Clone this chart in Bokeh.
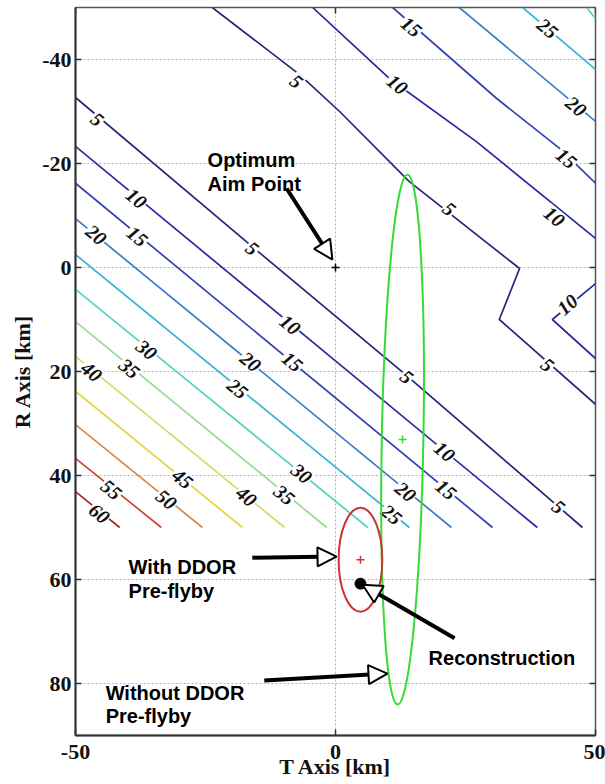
import numpy as np
from bokeh.plotting import figure
from bokeh.models import Range1d, FixedTicker, Arrow, NormalHead, ColumnDataSource
from bokeh.core.properties import value
from bokeh.embed import file_html
from bokeh.resources import INLINE

# ---------------- data (km) ----------------
x_ticks = [-50, 0, 50]
y_ticks = [-40, -20, 0, 20, 40, 60, 80]
x_lim = (-50, 50)
y_lim = (90, -50)   # reversed axis: R grows downward

# contour grid extent
grid_x_min = -50
grid_x_max = 50
grid_y_min = -50
grid_y_max = 50

levels = [5, 10, 15, 20, 25, 30, 35, 40, 45, 50, 55, 60]
level_colors = ["#26267a", "#2a2a9e", "#3040b4", "#3a7cc6", "#38b4d6", "#52d2be",
                "#98da92", "#cede66", "#e6d248", "#d68a46", "#cc4436", "#aa2626"]

# lower-left family: nearly straight lines from the left edge to the grid cut (y=50)
lower_levels = [10, 15, 20, 25, 30, 35, 40, 45, 50, 55, 60]
lower_y_at_left = [-23.3, -16.2, -9.4, -2.5, 4.2, 10.4, 17.1, 23.8, 30.2, 36.7, 43.1]
lower_x_at_cut = [38.8, 30.2, 22.3, 14.2, 6.2, -1.7, -9.8, -17.9, -25.6, -33.5, -41.5]

low5_x = [-50, -16.0, 13.7, 47.5]
low5_y = [-32.7, -4.0, 20.8, 50]

# upper-right family
up5_x = [-23.7, -6.9, 0.8, 14.2, 35.4, 31.5, 50]
up5_y = [-50, -37.1, -30.0, -16.5, 0.2, 10.0, 26.3]
up10_x = [-4.4, 10.4, 27.1, 50]
up10_y = [-50, -36.3, -24.2, -5.6]
up10b_x = [50, 41.7, 50]
up10b_y = [3.1, 10.0, 17.5]
up15_x = [11.0, 31.0, 43.1, 50]
up15_y = [-50, -32.5, -22.9, -16.2]
up20_x = [23.8, 50]
up20_y = [-50, -28.1]
up25_x = [36.0, 50]
up25_y = [-50, -38.1]
up30_x = [48.3, 50]
up30_y = [-50, -47.9]

# contour labels
clabel_text = ["5", "5", "5", "5", "10", "10", "10", "15", "15", "15", "20", "20", "20",
               "25", "25", "30", "30", "35", "35", "40", "40", "45", "50", "55", "60",
               "5", "5", "5", "10", "10", "10", "15", "15", "20", "25"]
clabel_x = [-45.8, -16.0, 13.7, 42.9, -38.3, -8.7, 21.0, -38.1, -8.3, 21.3, -46.0, -16.3, 13.5,
            -18.8, 10.8, -36.3, -6.5, -39.6, -9.8, -46.9, -17.1, -29.4, -32.5, -43.1, -45.4,
            -7.5, 21.9, 40.8, 11.9, 42.1, 44.6, 14.6, 44.4, 46.3, 40.8]
clabel_y = [-28.5, -3.7, 21.0, 46.0, -13.3, 11.0, 35.4, -6.0, 18.1, 42.7, -6.3, 18.1, 43.1,
            23.3, 47.5, 15.8, 39.6, 19.4, 43.7, 20.0, 44.0, 40.6, 44.6, 42.7, 47.3,
            -35.8, -11.3, 18.7, -35.2, -9.8, 7.1, -46.3, -21.0, -31.0, -46.0]
clabel_up = [False] * 30 + [True] + [False] * 4

# uncertainty ellipses (center, full width, full height)
green_c = (12.9, 33.1)
green_w, green_h, green_angle = 8.0, 102.0, -0.0186
red_c = (4.8, 56.2)
red_w, red_h = 8.4, 20.0

aim_point = (0.0, 0.0)
recon_point = (4.8, 60.8)

# annotations: (text lines, x, baseline y of first line, line step)
ann_opt = (["Optimum", "Aim Point"], -24.6, -20.6, 4.6)
ann_with = (["With DDOR", "Pre-flyby"], -39.8, 57.5, 4.8)
ann_without = (["Without DDOR", "Pre-flyby"], -44.2, 81.9, 4.4)
ann_recon = (["Reconstruction"], 17.9, 75.0, 0)

arrows = [((-9.4, -15.2), (-0.6, -1.5)),
          ((-16.0, 55.8), (0.2, 55.6)),
          ((-13.7, 79.4), (10.0, 78.1)),
          ((22.9, 71.3), (5.2, 61.0))]

# ---------------- figure ----------------
p = figure(width=605, height=784, output_backend="svg", toolbar_location=None,
           x_range=Range1d(*x_lim), y_range=Range1d(*y_lim),
           min_border_left=75, min_border_right=10, min_border_top=7, min_border_bottom=49,
           background_fill_color="white", border_fill_color="white")
p.outline_line_color = "#555555"
p.outline_line_width = 1.5

p.xaxis.ticker = FixedTicker(ticks=x_ticks)
p.yaxis.ticker = FixedTicker(ticks=y_ticks)
p.xaxis.major_label_overrides = {t: str(t) for t in x_ticks}
p.yaxis.major_label_overrides = {t: str(t) for t in y_ticks}
p.xaxis.axis_label = "T Axis [km]"
p.yaxis.axis_label = "R Axis [km]"
for ax in [p.xaxis[0], p.yaxis[0]]:
    ax.major_label_text_font = "Liberation Serif"
    ax.major_label_text_font_style = "bold"
    ax.major_label_text_font_size = "22px"
    ax.major_label_text_color = "#111111"
    ax.axis_label_text_font = "Liberation Serif"
    ax.axis_label_text_font_style = "bold"
    ax.axis_label_text_font_size = "22px"
    ax.axis_label_text_color = "#111111"
    ax.major_tick_in = 6
    ax.major_tick_out = 0
    ax.minor_tick_line_color = None
    ax.axis_line_width = 2
    ax.axis_line_color = "#333333"
    ax.major_tick_line_color = "#333333"
    ax.major_tick_line_width = 1.5
p.xaxis.major_label_standoff = 9
p.xaxis.axis_label_standoff = -8
p.yaxis.major_label_standoff = 4
p.yaxis.axis_label_standoff = 4

p.grid.grid_line_color = "#b4b4b4"
p.grid.grid_line_dash = "2 2"
p.grid.grid_line_width = 1

# inward ticks on the right and top borders (half of each dash is clipped by the frame)
p.scatter(x=[x_lim[1]] * len(y_ticks), y=y_ticks, marker="dash", size=12,
          line_color="#333333", line_width=1.5)
p.scatter(x=x_ticks, y=[y_lim[1]] * len(x_ticks), marker="dash", angle=np.pi / 2, size=12,
          line_color="#333333", line_width=1.5)

color_of = dict(zip(levels, level_colors))

xs, ys, cs = [], [], []
for lv, yl, xc in zip(lower_levels, lower_y_at_left, lower_x_at_cut):
    xs.append([grid_x_min, xc]); ys.append([yl, grid_y_max]); cs.append(color_of[lv])
for lv, lx, ly in [(5, low5_x, low5_y), (5, up5_x, up5_y), (10, up10_x, up10_y),
                   (10, up10b_x, up10b_y), (15, up15_x, up15_y), (20, up20_x, up20_y),
                   (25, up25_x, up25_y), (30, up30_x, up30_y)]:
    xs.append(lx); ys.append(ly); cs.append(color_of[lv])
p.multi_line(xs=xs, ys=ys, line_color=cs, line_width=1.7)

ang = [0.72 if u else -0.69 for u in clabel_up]
lab_src = ColumnDataSource(dict(x=clabel_x, y=clabel_y, text=clabel_text, angle=ang))
p.text(x="x", y="y", text="text", angle="angle", source=lab_src,
       text_font=value("Liberation Serif"), text_font_style="bold italic",
       text_font_size="20px", text_align="center", text_baseline="middle",
       text_color="#111111", background_fill_color="white", padding=1)

p.ellipse(x=[green_c[0]], y=[green_c[1]], width=green_w, height=green_h, angle=green_angle,
          fill_color=None, line_color="#33dd33", line_width=2)
p.ellipse(x=[red_c[0]], y=[red_c[1]], width=red_w, height=red_h,
          fill_color=None, line_color="#cc3333", line_width=2)

p.scatter(x=[green_c[0]], y=[green_c[1]], marker="cross", size=8, line_color="#33dd33", line_width=1.5)
p.scatter(x=[red_c[0]], y=[red_c[1]], marker="cross", size=8, line_color="#cc3333", line_width=1.5)
p.scatter(x=[aim_point[0]], y=[aim_point[1]], marker="cross", size=8, line_color="black", line_width=1.5)
p.scatter(x=[recon_point[0]], y=[recon_point[1]], marker="circle", size=11,
          fill_color="black", line_color="black")

for (x0, y0), (x1, y1) in arrows:
    p.add_layout(Arrow(end=NormalHead(size=19, fill_color="white", line_color="black", line_width=2),
                       x_start=x0, y_start=y0, x_end=x1, y_end=y1,
                       line_color="black", line_width=4))

for lines, ax_, ay_, step in [ann_opt, ann_with, ann_without, ann_recon]:
    p.text(x=[ax_] * len(lines), y=[ay_ + i * step for i in range(len(lines))], text=lines,
           text_font=value("Liberation Sans"), text_font_style="bold", text_font_size="20px",
           text_align="left", text_baseline="alphabetic", text_color="black")

open("out.html", "w").write(file_html(p, INLINE))
